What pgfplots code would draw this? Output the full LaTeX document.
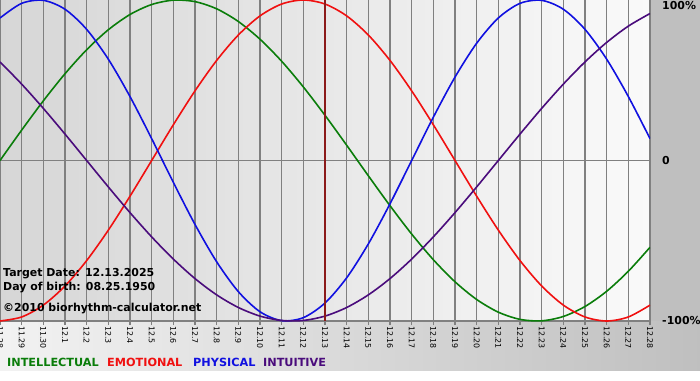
\documentclass[border=0pt]{standalone}
\usepackage{pgfplots}
\usepackage{pgfplotstable}
\pgfplotsset{compat=1.18}
\usepackage{fontspec}
\setmainfont{DejaVu Sans}
\definecolor{cIntel}{HTML}{0A7D0A}
\definecolor{cEmo}{HTML}{F01010}
\definecolor{cPhys}{HTML}{1010E0}
\definecolor{cIntu}{HTML}{4A0C7C}
\definecolor{cTarget}{HTML}{8B1A1A}
\definecolor{cGrid}{HTML}{808080}
\pgfplotstableread{
t intel emo phys intu
0 0 -100 88.79 61.42
1 18.93 -97.49 97.91 47.59
2 37.17 -90.10 99.77 32.47
3 54.06 -78.18 94.23 16.46
4 69.01 -62.35 81.70 0
5 81.46 -43.39 63.11 -16.46
6 90.96 -22.25 39.84 -32.47
7 97.18 0 13.62 -47.59
8 99.89 22.25 -13.62 -61.42
9 98.98 43.39 -39.84 -73.57
10 94.50 62.35 -63.11 -83.72
11 86.60 78.18 -81.70 -91.58
12 75.57 90.10 -94.23 -96.94
13 61.82 97.49 -99.77 -99.66
14 45.82 100 -97.91 -99.66
15 28.17 97.49 -88.79 -96.94
16 9.51 90.10 -73.08 -91.58
17 -9.51 78.18 -51.96 -83.72
18 -28.17 62.35 -26.98 -73.57
19 -45.82 43.39 0 -61.42
20 -61.82 22.25 26.98 -47.59
21 -75.57 0 51.96 -32.47
22 -86.60 -22.25 73.08 -16.46
23 -94.50 -43.39 88.79 0
24 -98.98 -62.35 97.91 16.46
25 -99.89 -78.18 99.77 32.47
26 -97.18 -90.10 94.23 47.59
27 -90.96 -97.49 81.70 61.42
28 -81.46 -100 63.11 73.57
29 -69.01 -97.49 39.84 83.72
30 -54.06 -90.10 13.62 91.58
}\bio
\begin{document}
\begin{tikzpicture}[x=1bp,y=1bp]
\useasboundingbox (0,0) rectangle (700,380);
\clip (0,0) rectangle (700,380);
\fill[white] (0,0) rectangle (700,380);
\shade[left color=white!95!black, right color=white!75!black] (0,10) rectangle (700,59);
\fill[white!75!black] (650,59) rectangle (700,380);
\begin{axis}[
  at={(0bp,59bp)}, anchor=south west,
  scale only axis, width=650bp, height=321bp,
  xmin=0, xmax=30, ymin=-100, ymax=100,
  axis background/.style={shade, left color=white!84!black, right color=white!98!black},
  axis line style={draw=none},
  xtick={0,...,30},
  xticklabels={11.28,11.29,11.30,12.1,12.2,12.3,12.4,12.5,12.6,12.7,12.8,12.9,12.10,12.11,12.12,12.13,12.14,12.15,12.16,12.17,12.18,12.19,12.20,12.21,12.22,12.23,12.24,12.25,12.26,12.27,12.28},
  xtick pos=left, tick align=outside,
  major tick length=4bp,
  x tick style={cGrid, line width=1.2bp},
  xticklabel style={rotate=-90, anchor=west, font=\fontsize{7.9}{8}\selectfont, inner sep=1bp},
  ytick={-100,0},
  yticklabels={-100\%,0},
  extra y ticks={100}, extra y tick labels={100\%},
  extra y tick style={grid=none, yticklabel style={yshift=-6bp}},
  ytick pos=right, yticklabel pos=right,
  y tick style={draw=none},
  yticklabel style={font=\fontsize{11}{13}\bfseries, anchor=west, inner sep=0pt, xshift=8bp},
  grid=major,
  major grid style={cGrid, line width=1.2bp},
  clip=true,
]
\addplot[cIntel, line width=1.6bp, smooth] table[x=t, y=intel] {\bio};
\addplot[cEmo, line width=1.6bp, smooth] table[x=t, y=emo] {\bio};
\addplot[cPhys, line width=1.6bp, smooth] table[x=t, y=phys] {\bio};
\addplot[cIntu, line width=1.6bp, smooth] table[x=t, y=intu] {\bio};
\addplot[cTarget, line width=2bp] coordinates {(15,-100) (15,100)};
\end{axis}
\begin{scope}[every node/.style={anchor=base west, inner sep=0pt, font=\fontsize{11}{13}\selectfont\bfseries}]
\node at (3,104) {Target Date: 12.13.2025};
\node at (3,90) {Day of birth: 08.25.1950};
\node at (3,69) {©2010 biorhythm-calculator.net};
\end{scope}
\begin{scope}[every node/.style={anchor=base west, inner sep=0pt, font=\fontsize{11.3}{13}\selectfont\bfseries}]
\node[text=cIntel] at (7,13.5) {INTELLECTUAL};
\node[text=cEmo] at (107,13.5) {EMOTIONAL};
\node[text=cPhys] at (193,13.5) {PHYSICAL};
\node[text=cIntu] at (263,13.5) {INTUITIVE};
\end{scope}
\end{tikzpicture}
\end{document}
